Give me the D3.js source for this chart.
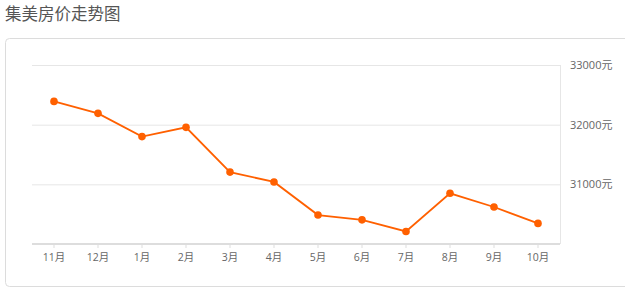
<!DOCTYPE html>
<html>
<head>
<meta charset="utf-8">
<script src="https://cdn.jsdelivr.net/npm/d3@7"></script>
<style>
  body { margin: 0; background: #fff; font-family: "Open Sans", "Noto Sans CJK SC", sans-serif; }
</style>
</head>
<body>
<div id="chart"></div>
<script>
// Data
const months = ["11月", "12月", "1月", "2月", "3月", "4月", "5月", "6月", "7月", "8月", "9月", "10月"];
const prices = [32390, 32190, 31800, 31955, 31205, 31040, 30485, 30405, 30210, 30850, 30620, 30345];
const yTicks = [31000, 32000, 33000];

const CONFIG = {
    width: 625,
    height: 288,
    plot: { left: 32, right: 560, top: 65, bottom: 244 },
    lineColor: "#ff6000",
    gridColor: "#e6e6e6",
    textColor: "#666"
};

const svg = d3.select("#chart")
    .append("svg")
    .attr("width", CONFIG.width)
    .attr("height", CONFIG.height);

// Title
svg.append("text")
    .attr("x", 5)
    .attr("y", 20)
    .attr("font-size", "16.5px")
    .attr("fill", "#555")
    .attr("font-family", "'Noto Sans CJK SC', sans-serif")
    .text("集美房价走势图");

// Panel border
svg.append("rect")
    .attr("x", 5.5)
    .attr("y", 38.5)
    .attr("width", 640)
    .attr("height", 248)
    .attr("rx", 4)
    .attr("fill", "none")
    .attr("stroke", "#dcdcdc");

// Scales
const x = d3.scaleBand()
    .domain(months)
    .range([CONFIG.plot.left, CONFIG.plot.right]);

const y = d3.scaleLinear()
    .domain([30000, 33000])
    .range([CONFIG.plot.bottom, CONFIG.plot.top]);

const cx = d => x(d) + x.bandwidth() / 2;

// Grid lines
svg.append("g")
    .selectAll("line")
    .data(yTicks)
    .enter()
    .append("line")
    .attr("x1", CONFIG.plot.left)
    .attr("x2", CONFIG.plot.right)
    .attr("y1", d => y(d) + 0.5)
    .attr("y2", d => y(d) + 0.5)
    .attr("stroke", CONFIG.gridColor)
    .attr("stroke-width", 1);

// Right side line
svg.append("line")
    .attr("x1", CONFIG.plot.right + 0.5)
    .attr("x2", CONFIG.plot.right + 0.5)
    .attr("y1", CONFIG.plot.top)
    .attr("y2", CONFIG.plot.bottom)
    .attr("stroke", CONFIG.gridColor);

// Right axis labels
const yAxis = svg.append("g")
    .attr("transform", `translate(${CONFIG.plot.right},0)`)
    .call(d3.axisRight(y)
        .tickValues(yTicks)
        .tickSize(0)
        .tickPadding(10)
        .tickFormat(d => d + "元"));
yAxis.select(".domain").remove();
yAxis.selectAll("text")
    .attr("fill", CONFIG.textColor)
    .attr("font-size", "11px")
    .attr("font-family", "'Open Sans', 'Noto Sans CJK SC', sans-serif");

// Bottom axis
const xAxis = svg.append("g")
    .attr("transform", `translate(0,${CONFIG.plot.bottom})`)
    .call(d3.axisBottom(x)
        .tickSize(4)
        .tickPadding(6));
xAxis.select(".domain")
    .attr("d", `M${CONFIG.plot.left},0H${CONFIG.plot.right}`)
    .attr("stroke", "#dddddd")
    .attr("stroke-width", 2);
xAxis.selectAll(".tick line").attr("stroke", "#dddddd");
xAxis.selectAll("text")
    .attr("fill", CONFIG.textColor)
    .attr("font-size", "10.5px")
    .attr("font-family", "'Open Sans', 'Noto Sans CJK SC', sans-serif");

// Line
const line = d3.line()
    .x((d, i) => cx(months[i]))
    .y(d => y(d));

svg.append("path")
    .datum(prices)
    .attr("d", line)
    .attr("fill", "none")
    .attr("stroke", CONFIG.lineColor)
    .attr("stroke-width", 1.8);

// Points
svg.append("g")
    .selectAll("circle")
    .data(prices)
    .enter()
    .append("circle")
    .attr("cx", (d, i) => cx(months[i]))
    .attr("cy", d => y(d))
    .attr("r", 3.8)
    .attr("fill", CONFIG.lineColor);
</script>
</body>
</html>
